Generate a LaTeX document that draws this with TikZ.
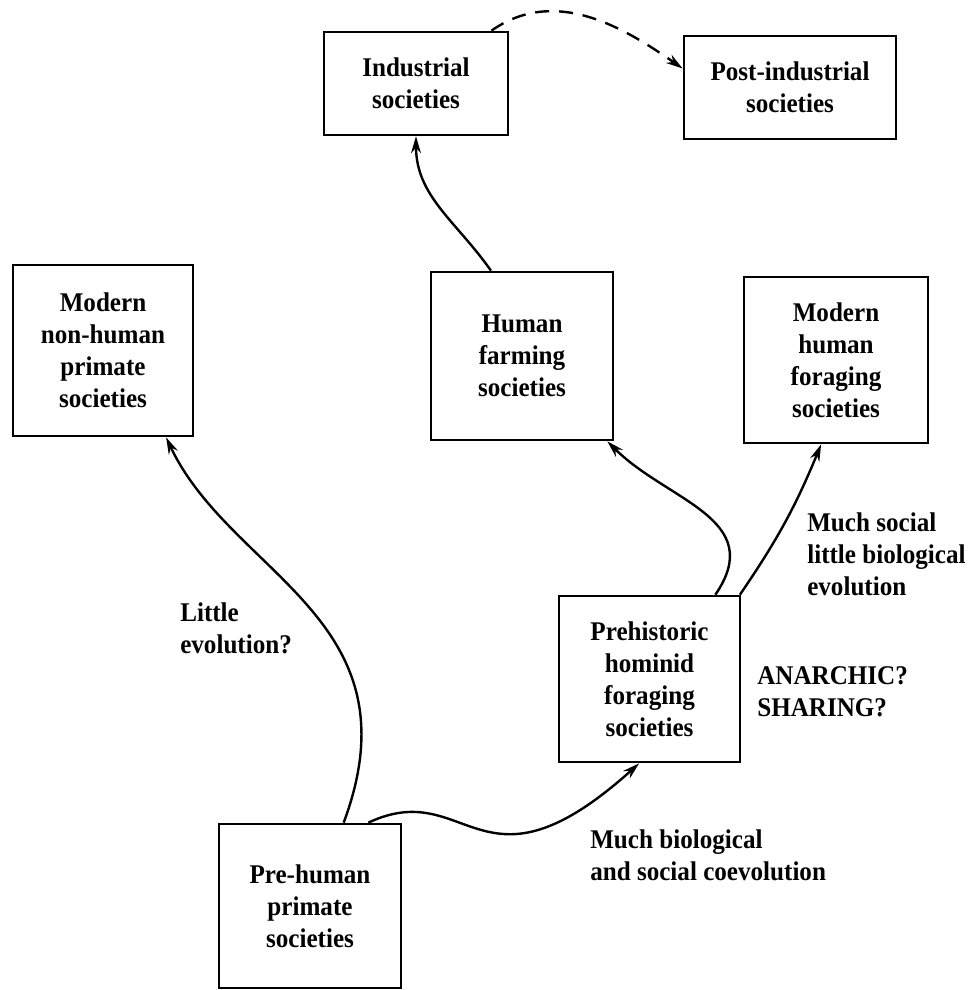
\documentclass[tikz,border=0pt]{standalone}
\usepackage{fontspec}
\setmainfont{Liberation Serif}[FakeStretch=0.93]
\usetikzlibrary{arrows.meta}

\begin{document}
\begin{tikzpicture}[
		box/.style={draw, line width=1.9pt, align=center, inner sep=0pt,
			font=\fontsize{19.2}{22.8}\selectfont\bfseries},
		lbl/.style={align=left, inner sep=0pt, anchor=west,
			font=\fontsize{19.2}{22.8}\selectfont\bfseries},
		evo/.style={line width=1.7pt, -{Stealth[length=12pt,width=7pt]}}
	]
			%%%%% START %%%%%
			
			\useasboundingbox (0, 0) rectangle (24.425, 24.75);
			
			% top row
			\node[box, minimum width=4.6cm, minimum height=2.575cm] (ind) at (10.4, 22.6625) {Industrial\\societies};
			\node[box, minimum width=5.3cm, minimum height=2.575cm] (post) at (19.75, 22.5625) {Post-industrial\\societies};
			
			% middle row
			\node[box, minimum width=4.5cm, minimum height=4.275cm] (nonhuman) at (2.575, 15.9875) {Modern\\non-human\\primate\\societies};
			\node[box, minimum width=4.55cm, minimum height=4.2cm] (farm) at (13.05, 15.85) {Human\\farming\\societies};
			\node[box, minimum width=4.6cm, minimum height=4.15cm] (modfor) at (20.9, 15.75) {Modern\\human\\foraging\\societies};
			
			% lower boxes
			\node[box, minimum width=4.525cm, minimum height=4.15cm] (prehist) at (16.2375, 7.775) {Prehistoric\\hominid\\foraging\\societies};
			\node[box, minimum width=4.55cm, minimum height=4.1cm] (prehuman) at (7.75, 2.1) {Pre-human\\primate\\societies};
			
			% labels
			\node[lbl] (little) at (4.5, 9.05) {Little\\evolution?};
			\node[lbl] (social) at (20.175, 10.9) {Much social\\little biological\\evolution};
			\node[lbl] (anarchic) at (18.925, 7.45) {ANARCHIC?\\SHARING?};
			\node[lbl] (coevo) at (14.75, 3.375) {Much biological\\and social coevolution};
			
			% arrows
			\draw[evo] (prehuman.68) .. controls +(1.9, 5.1) and +(1.625, -3.45) .. (nonhuman.-54);
			\draw[evo] (prehuman.55) .. controls +(2.5, 1.175) and +(-3.975, -3.575) .. (prehist.-97);
			\draw[evo] (prehist.52) .. controls +(1.3, 1.9) and +(1.5, -1.5) .. (farm.-45);
			\draw[evo] (prehist.43) to[bend right=6] (modfor.-100);
			\draw[evo] (farm.110) to[out=125, in=-90] (ind.south);
			\draw[evo, dash pattern=on 10pt off 7pt] (ind.35) to[out=35, in=145] (post.170);
			
			%%%%% END %%%%%
\end{tikzpicture}
\end{document}
